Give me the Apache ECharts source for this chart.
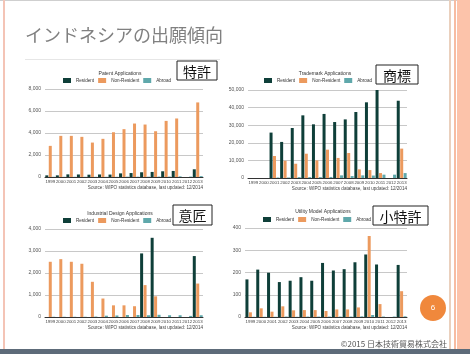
<!DOCTYPE html>
<html>
<head>
<meta charset="utf-8">
<script src="https://cdn.jsdelivr.net/npm/echarts@6/dist/echarts.min.js"></script>
<style>
  html, body { margin: 0; padding: 0; background: #fff; }
  #main { width: 470px; height: 354px; }
</style>
</head>
<body>
<div id="main"></div>
<script>
// 年
const years = ['1999','2000','2001','2002','2003','2004','2005','2006','2007','2008','2009','2010','2011','2012','2013'];

// 特許 Patent
const patentResident = [150, 150, 240, 230, 210, 230, 220, 330, 360, 430, 460, 520, 550, null, 700];
const patentNonResident = [2830, 3740, 3740, 3650, 3130, 3470, 4070, 4350, 4860, 4770, 4160, 5100, 5320, null, 6780];
const patentAbroad = [20, 20, 20, 20, 20, 20, 20, 30, 30, 30, 40, 40, 60, 40, 80];

// 商標 Trademark
const tmResident = [null, null, 25800, 20500, 28400, 35600, 30500, 36400, 31800, 33300, 37500, 43000, 50400, null, 43900];
const tmNonResident = [null, null, 12500, 9800, 8100, 13800, 10000, 16100, 11400, 14200, 4900, 4500, 2800, null, 16700];
const tmAbroad = [null, null, 300, 300, 500, 500, 500, 600, 1500, 1100, 1500, 1400, 1900, 1900, 2800];

// 意匠 Industrial design
const dsResident = [null, null, null, null, null, null, null, null, null, 2890, 3600, null, null, null, 2770];
const dsNonResident = [2510, 2630, 2510, 2420, 1600, 840, 530, 530, 490, 1450, 940, null, null, null, 1520];
const dsAbroad = [10, 10, 10, 10, 20, 60, 70, 90, 90, 80, 100, 80, 80, 50, 80];

// 小特許 Utility model
const umResident = [169, 213, 199, 157, 163, 179, 163, 243, 209, 215, 246, 281, 236, null, 234];
const umNonResident = [21, 39, 24, 48, 30, 31, 31, 27, 34, 34, 43, 364, 58, null, 116];
const umAbroad = [1, 1, 1, 2, 1, 2, 2, 2, 2, 2, 3, 9, 2, 2, 3];

const C_RES = '#0f3f39';
const C_NRES = '#ec9a5e';
const C_ABR = '#5fa8ab';
const SOURCE = 'Source: WIPO statistics database, last updated: 12/2014';

const chart = echarts.init(document.getElementById('main'));

// 4つのグラフの位置
const grids = [
  { left: 45, right: 267, top: 89, bottom: 177 },
  { left: 248, right: 63, top: 90, bottom: 176 },
  { left: 45, right: 267, top: 229, bottom: 37 },
  { left: 245, right: 63, top: 228, bottom: 37 }
];
const yMax = [8000, 50000, 4000, 400];
const yStep = [2000, 10000, 1000, 100];
const titles = ['Patent Applications', 'Trademark Applications', 'Industrial Design Applications', 'Utility Model Applications'];
const tags = [
  { text: '特許', x: 177, y: 61, w: 40, h: 19 },
  { text: '商標', x: 376, y: 65, w: 42, h: 19 },
  { text: '意匠', x: 173, y: 205, w: 39, h: 20 },
  { text: '小特許', x: 373, y: 206, w: 55, h: 19 }
];
const dataSets = [
  [patentResident, patentNonResident, patentAbroad],
  [tmResident, tmNonResident, tmAbroad],
  [dsResident, dsNonResident, dsAbroad],
  [umResident, umNonResident, umAbroad]
];

const font = '"Liberation Sans", sans-serif';

const xAxis = grids.map((g, i) => ({
  type: 'category',
  gridIndex: i,
  data: years,
  axisLine: { lineStyle: { color: '#333', width: 1 } },
  axisTick: { show: false },
  axisLabel: { fontSize: 4.4, color: '#444', interval: 0, margin: 3, fontFamily: font }
}));
const yAxis = grids.map((g, i) => ({
  type: 'value',
  gridIndex: i,
  min: 0,
  max: yMax[i],
  interval: yStep[i],
  axisLine: { show: false },
  axisTick: { show: false },
  splitLine: { lineStyle: { color: '#c8c8c8', width: 1 } },
  axisLabel: {
    fontSize: 5, color: '#555', margin: 4, fontFamily: font,
    formatter: v => v.toLocaleString('en-US')
  }
}));

const series = [];
dataSets.forEach((ds, i) => {
  const names = ['Resident', 'Non-Resident', 'Abroad'];
  const colors = [C_RES, C_NRES, C_ABR];
  ds.forEach((d, k) => {
    series.push({
      name: names[k],
      type: 'bar',
      xAxisIndex: i,
      yAxisIndex: i,
      data: d,
      barWidth: 3,
      barGap: '15%',
      itemStyle: { color: colors[k] },
      silent: true
    });
  });
});

const legendLeft = [63, 264, 63, 263];
const legendTop = [78, 78, 218, 217];
const legend = grids.map((g, i) => ({
  data: ['Resident', 'Non-Resident', 'Abroad'],
  left: legendLeft[i],
  top: legendTop[i],
  padding: 0,
  itemWidth: 8,
  itemHeight: 5,
  itemGap: 4,
  textStyle: { fontSize: 4.6, color: '#333', fontFamily: font },
  icon: 'rect'
}));

const titleCfg = grids.map((g, i) => ({
  text: titles[i],
  left: [115, 320, 115, 318][i],
  top: [66, 66, 206, 204][i],
  textAlign: 'center',
  textStyle: { fontSize: 5, fontWeight: 'normal', color: '#333', fontFamily: font }
}));

const graphic = [
  // スライドの枠
  { type: 'rect', shape: { x: 0, y: 0, width: 470, height: 1 }, style: { fill: '#cfcfcf' } },
  { type: 'rect', shape: { x: 3, y: 0, width: 2, height: 349 }, style: { fill: '#f4c4b6' } },
  { type: 'rect', shape: { x: 449, y: 0, width: 2, height: 349 }, style: { fill: '#ead0bd' } },
  { type: 'rect', shape: { x: 454, y: 0, width: 2, height: 349 }, style: { fill: '#f7bca2' } },
  { type: 'rect', shape: { x: 457, y: 0, width: 13, height: 349 }, style: { fill: '#fcc3aa' } },
  { type: 'rect', shape: { x: 0, y: 349, width: 470, height: 5 }, style: { fill: '#5d6b79' } },
  // タイトル
  {
    type: 'text', left: 25, top: 26,
    style: { text: 'インドネシアの出願傾向', fontSize: 18, fill: '#808080', fontFamily: '"Noto Sans CJK JP"' }
  },
  { type: 'rect', shape: { x: 25, y: 59, width: 195, height: 1 }, style: { fill: '#e6e6e6' } },
  // ページ番号
  { type: 'circle', shape: { cx: 433, cy: 308, r: 13 }, style: { fill: '#f0883c' } },
  {
    type: 'text', x: 433, y: 308,
    style: { text: '6', fontSize: 8, fill: '#fff', align: 'center', verticalAlign: 'middle', fontFamily: font }
  },
  {
    type: 'text', right: 23, top: 340,
    style: { text: '©2015 日本技術貿易株式会社', fontSize: 8, fill: '#555', fontFamily: '"Noto Sans CJK JP"' }
  }
];

// Source と ラベル枠
grids.forEach((g, i) => {
  graphic.push({
    type: 'text', x: 470 - g.right, y: 354 - g.bottom + 8,
    style: { text: SOURCE, fontSize: 4.6, fill: '#444', align: 'right', fontFamily: font }
  });
  const t = tags[i];
  graphic.push({
    type: 'rect', shape: { x: t.x, y: t.y, width: t.w, height: t.h },
    style: { fill: '#fff', stroke: '#222', lineWidth: 1 }
  });
  graphic.push({
    type: 'text', x: t.x + t.w / 2, y: t.y + t.h / 2 + 1,
    style: { text: t.text, fontSize: 14, fill: '#111', align: 'center', verticalAlign: 'middle', fontFamily: '"Noto Sans CJK JP"' }
  });
});

chart.setOption({
  animation: false,
  backgroundColor: '#fff',
  title: titleCfg,
  legend: legend,
  grid: grids,
  xAxis: xAxis,
  yAxis: yAxis,
  series: series,
  graphic: graphic
});
</script>
</body>
</html>
